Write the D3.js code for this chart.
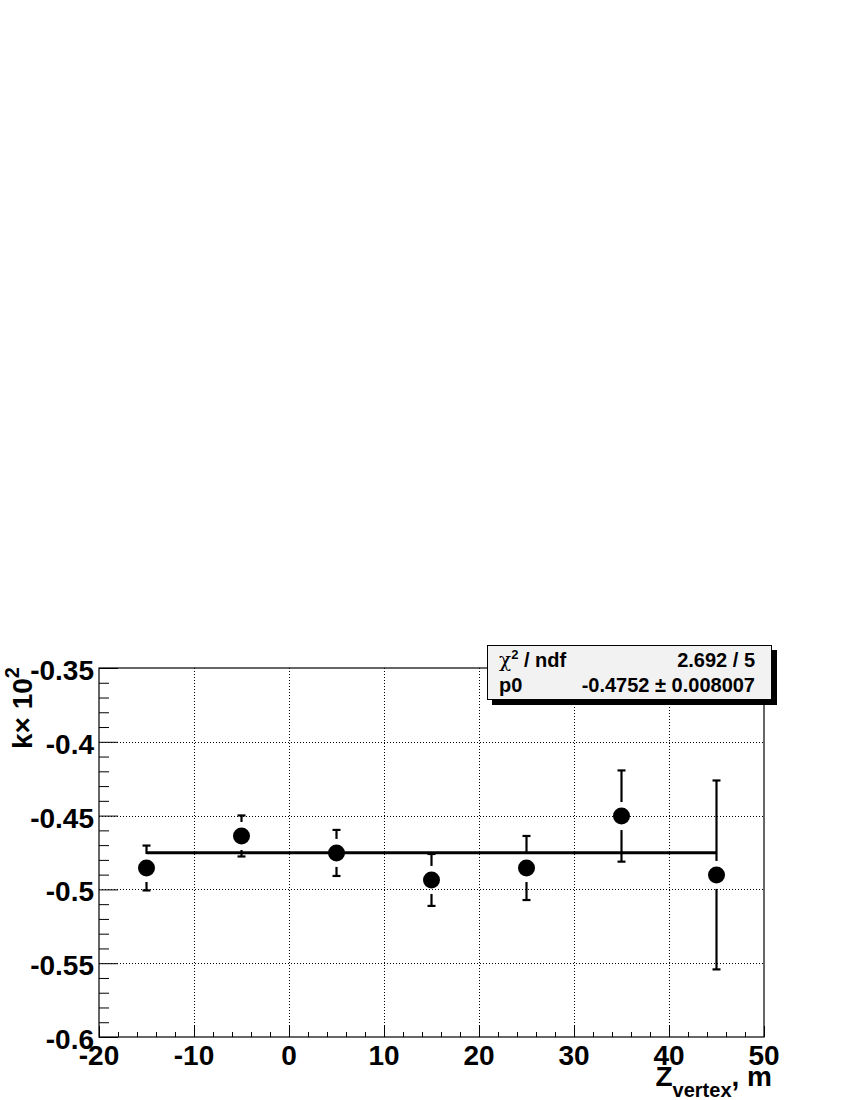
<!DOCTYPE html>
<html>
<head>
<meta charset="utf-8">
<script src="https://cdn.jsdelivr.net/npm/d3@7"></script>
<style>
  body { margin: 0; background: #fff; }
  svg { font-family: "Liberation Sans", Arial, Helvetica, sans-serif; font-weight: bold; }
</style>
</head>
<body>
<svg id="chart" width="850" height="1100"></svg>
<script>
// measured points (z position, k*100, error)
const zVals = [-15, -5, 5, 15, 25, 35, 45];
const kVals = [-0.4855, -0.4638, -0.4753, -0.4936, -0.4855, -0.4503, -0.4902];
const kErrs = [0.0152, 0.0139, 0.0156, 0.0176, 0.0217, 0.0309, 0.064];

// constant fit
const fitP0 = -0.4752;
const fitRange = [-15, 45];
const statsRows = [["\u03C7", " / ndf", "2.692 / 5"], ["p0", "", "-0.4752 \u00B1 0.008007"]];

const xTicks = [-20, -10, 0, 10, 20, 30, 40, 50];
const yTicks = [-0.6, -0.55, -0.5, -0.45, -0.4, -0.35];

const svg = d3.select("#chart");

/* frame position */
const frameL = 99, frameR = 764, frameT = 668, frameB = 1037;

let xScale = d3.scaleLinear().domain([-20, 50]).range([frameL, frameR]);
let yScale = d3.scaleLinear().domain([-0.6, -0.35]).range([frameB, frameT]);

/* grid */
let grid = svg.append("g").attr("id", "grid")
    .attr("stroke", "#000").attr("stroke-width", 1).attr("stroke-dasharray", "1,2");
grid.selectAll("line.gx")
    .data(xTicks.slice(1, -1))
    .join("line")
    .attr("class", "gx")
    .attr("x1", d => Math.round(xScale(d)) + 0.5).attr("x2", d => Math.round(xScale(d)) + 0.5)
    .attr("y1", frameT).attr("y2", frameB);
grid.selectAll("line.gy")
    .data(yTicks.slice(1, -1))
    .join("line")
    .attr("class", "gy")
    .attr("y1", d => Math.round(yScale(d)) + 0.5).attr("y2", d => Math.round(yScale(d)) + 0.5)
    .attr("x1", frameL).attr("x2", frameR);

/* axes: ROOT-style inner ticks */
let xAxis = d3.axisBottom(xScale)
    .tickValues(d3.range(-20, 50.01, 2))
    .tickSize(-5)
    .tickFormat("");
svg.append("g")
    .attr("id", "axis-x")
    .attr("transform", "translate(0," + frameB + ")")
    .call(xAxis)
    .call(g => g.select(".domain").remove())
    .call(g => g.selectAll(".tick line")
        .attr("y2", (d, i) => (i % 5 === 0 ? -11 : -5))
        .attr("stroke-width", 1));

let yAxis = d3.axisLeft(yScale)
    .tickValues(d3.range(0, 26).map(i => -0.6 + i * 0.01))
    .tickSize(-10)
    .tickFormat("");
svg.append("g")
    .attr("id", "axis-y")
    .attr("transform", "translate(" + frameL + ",0)")
    .call(yAxis)
    .call(g => g.select(".domain").remove())
    .call(g => g.selectAll(".tick line")
        .attr("x2", (d, i) => (i % 5 === 0 ? 19 : 10))
        .attr("stroke-width", 1));

/* frame */
svg.append("rect")
    .attr("x", frameL).attr("y", frameT)
    .attr("width", frameR - frameL).attr("height", frameB - frameT)
    .attr("fill", "none").attr("stroke", "#000").attr("stroke-width", 1.2);

/* tick labels (plain hyphen minus, as in the original) */
svg.append("g").selectAll("text")
    .data(xTicks)
    .join("text")
    .attr("x", d => xScale(d))
    .attr("y", 1065)
    .attr("text-anchor", "middle")
    .attr("font-size", 28)
    .text(d => String(d));

svg.append("g").selectAll("text")
    .data(yTicks)
    .join("text")
    .attr("x", frameL - 5)
    .attr("y", d => yScale(d) + 12)
    .attr("text-anchor", "end")
    .attr("font-size", 28)
    .text(d => String(d));

/* axis titles */
let xt = svg.append("text")
    .attr("x", 772).attr("y", 1086)
    .attr("text-anchor", "end")
    .attr("font-size", 28);
xt.append("tspan").text("Z");
xt.append("tspan").attr("font-size", 20).attr("dy", 11).text("vertex");
xt.append("tspan").attr("dy", -11).text(", m");

let yt = svg.append("text")
    .attr("transform", "translate(32,667) rotate(-90)")
    .attr("text-anchor", "end")
    .attr("font-size", 28);
yt.append("tspan").text("k\u00D7 10");
yt.append("tspan").attr("font-size", 20).attr("dy", -13).text("2");

/* fit line */
svg.append("line")
    .attr("x1", xScale(fitRange[0])).attr("x2", xScale(fitRange[1]))
    .attr("y1", yScale(fitP0)).attr("y2", yScale(fitP0))
    .attr("stroke", "#000").attr("stroke-width", 3);

/* error bars with a gap around the marker */
const gap = 14, cap = 4;
let pts = zVals.map((z, i) => ({ z: z, k: kVals[i], e: kErrs[i] }));
let eb = svg.append("g").attr("id", "errors").attr("stroke", "#000").attr("stroke-width", 2.2);
pts.forEach(d => {
    let cx = xScale(d.z), cy = yScale(d.k);
    let yHi = yScale(d.k + d.e), yLo = yScale(d.k - d.e);
    if (cy - gap > yHi) eb.append("line").attr("x1", cx).attr("x2", cx).attr("y1", yHi).attr("y2", cy - gap);
    if (cy + gap < yLo) eb.append("line").attr("x1", cx).attr("x2", cx).attr("y1", cy + gap).attr("y2", yLo);
    eb.append("line").attr("x1", cx - cap).attr("x2", cx + cap).attr("y1", yHi).attr("y2", yHi);
    eb.append("line").attr("x1", cx - cap).attr("x2", cx + cap).attr("y1", yLo).attr("y2", yLo);
});

svg.append("g").attr("id", "points").selectAll("circle")
    .data(pts)
    .join("circle")
    .attr("cx", d => xScale(d.z))
    .attr("cy", d => yScale(d.k))
    .attr("r", 8.5)
    .attr("fill", "#000");

/* stats box */
let box = svg.append("g").attr("id", "stats");
box.append("rect").attr("x", 492).attr("y", 650).attr("width", 285).attr("height", 55).attr("fill", "#000");
box.append("rect").attr("x", 487.5).attr("y", 645.5).attr("width", 284).attr("height", 54)
    .attr("fill", "#f2f2f2").attr("stroke", "#000").attr("stroke-width", 1);

box.selectAll("text.lab")
    .data(statsRows)
    .join("text")
    .attr("class", "lab")
    .attr("x", 499)
    .attr("y", (d, i) => 667 + i * 25)
    .attr("font-size", 20)
    .each(function (d) {
        let t = d3.select(this);
        t.append("tspan").attr("font-weight", "normal").attr("font-family", "DejaVu Serif, serif")
            .attr("font-style", d[1] ? "normal" : null).text(d[0]);
        if (d[1]) {
            t.append("tspan").attr("font-size", 13).attr("dy", -8).text("2");
            t.append("tspan").attr("dy", 8).text(d[1]);
        }
    });
box.selectAll("text.lab").filter(d => !d[1]).select("tspan")
    .attr("font-weight", null).attr("font-family", null);
box.selectAll("text.val")
    .data(statsRows)
    .join("text")
    .attr("class", "val")
    .attr("x", 755)
    .attr("y", (d, i) => 667 + i * 25)
    .attr("text-anchor", "end")
    .attr("font-size", 20)
    .text(d => d[2]);
</script>
</body>
</html>
